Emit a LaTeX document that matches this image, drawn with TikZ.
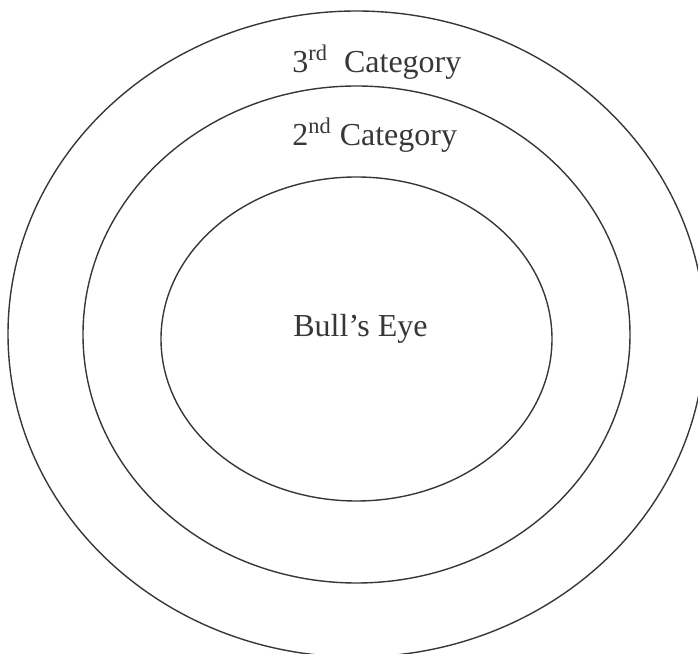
\documentclass[tikz,border=0pt]{standalone}
\usepackage{fontspec}
\setmainfont{Liberation Serif}
\usepackage{tikz}
\definecolor{cinzaTraco}{RGB}{55,55,58}
\tikzset{
  anel/.style={draw=cinzaTraco, line width=0.7pt},
  rotulo/.style={inner sep=0pt, anchor=base west, text=cinzaTraco,
                 font=\fontsize{16}{19}\selectfont},
}

\begin{document}
\begin{tikzpicture}[x=0.5pt, y=0.5pt]
  \useasboundingbox (0,0) rectangle (698,654);
  % the three rings
  \draw[anel] (356.5,320) ellipse [x radius=348.5, y radius=323];
  \draw[anel] (356.5,319.5) ellipse [x radius=273.5, y radius=248.5];
  \draw[anel] (356.5,315) ellipse [x radius=195.5, y radius=162];
  % labels
  \node[rotulo] (terceira) at (292,581) {3\textsuperscript{rd}\ \ Category};
  \node[rotulo] (segunda) at (292,508) {2\textsuperscript{nd} Category};
  \node[rotulo] (centro) at (293,317) {Bull’s Eye};
\end{tikzpicture}
\end{document}
